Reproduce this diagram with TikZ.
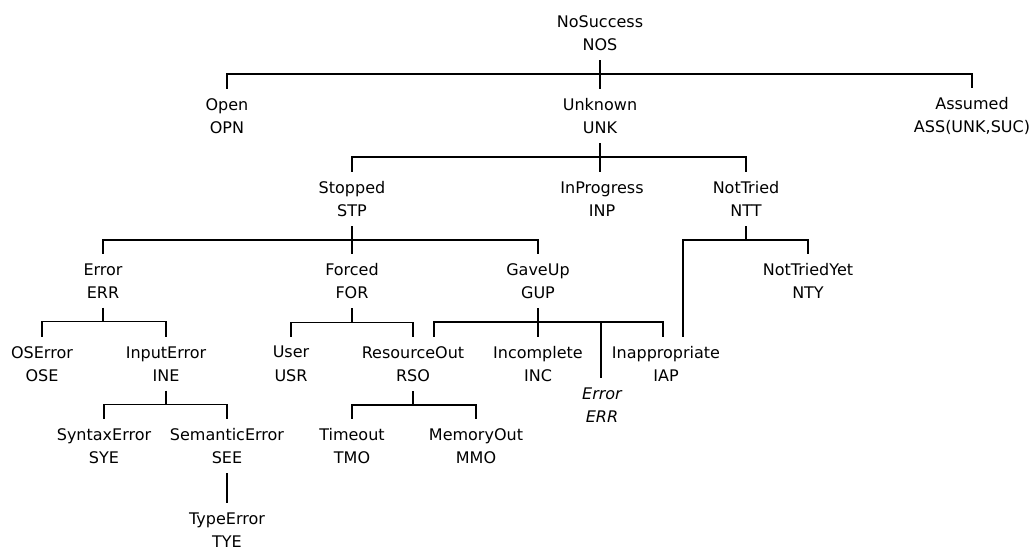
\documentclass[tikz,border=0pt]{standalone}
\usepackage{fontspec}
\setmainfont{DejaVu Sans}

\begin{document}
\begin{tikzpicture}[x=1pt,y=-1pt,
        estado/.style={align=center,inner sep=0pt,inner ysep=9pt,font=\fontsize{16}{23.5}\selectfont},
        rama/.style={line width=1.3pt}]
        \useasboundingbox (0,0) rectangle (1036,550);
        % Nodo raiz
            \node[estado] (nos) at (600,33) {NoSuccess\\NOS};
            % Primer nivel
            \node[estado] (opn) at (227,116) {Open\\OPN};
            \node[estado] (unk) at (600,116) {Unknown\\UNK};
            \node[estado] (ass) at (972,116) {Assumed\\ASS(UNK,SUC)};
            % Segundo nivel
            \node[estado] (stp) at (352,199) {Stopped\\STP};
            \node[estado] (inp) at (602,199) {InProgress\\INP};
            \node[estado] (ntt) at (746,199) {NotTried\\NTT};
            % Tercer nivel
            \node[estado] (err) at (103,281) {Error\\ERR};
            \node[estado] (for) at (352,281) {Forced\\FOR};
            \node[estado] (gup) at (538,281) {GaveUp\\GUP};
            \node[estado] (nty) at (808,281) {NotTriedYet\\NTY};
            % Cuarto nivel
            \node[estado] (ose) at (42,364) {OSError\\OSE};
            \node[estado] (ine) at (166,364) {InputError\\INE};
            \node[estado] (usr) at (291,364) {User\\USR};
            \node[estado] (rso) at (413,364) {ResourceOut\\RSO};
            \node[estado] (inc) at (538,364) {Incomplete\\INC};
            \node[estado] (iap) at (666,364) {Inappropriate\\IAP};
            \node[estado,font=\fontsize{16}{23.5}\selectfont\itshape] (gerr) at (602,405) {Error\\ERR};
            % Quinto nivel
            \node[estado] (sye) at (104,446) {SyntaxError\\SYE};
            \node[estado] (see) at (227,446) {SemanticError\\SEE};
            \node[estado] (tmo) at (352,446) {Timeout\\TMO};
            \node[estado] (mmo) at (476,446) {MemoryOut\\MMO};
            \node[estado] (tye) at (227,530) {TypeError\\TYE};

            % Conectores
            \draw[rama] (nos.south) -- ++(0,14) -| (opn.north);
            \draw[rama] (nos.south) -- (unk.north);
            \draw[rama] (nos.south) -- ++(0,14) -| (ass.north);
            \draw[rama] (unk.south) -- ++(0,14) -| (stp.north);
            \draw[rama] (unk.south) -- ([xshift=-2]inp.north);
            \draw[rama] (unk.south) -- ++(0,14) -| (ntt.north);
            \draw[rama] (stp.south) -- ++(0,14) -| (err.north);
            \draw[rama] (stp.south) -- (for.north);
            \draw[rama] (stp.south) -- ++(0,14) -| (gup.north);
            \draw[rama] (ntt.south) -- ++(0,14) -| ([xshift=17]iap.north);
            \draw[rama] (ntt.south) -- ++(0,14) -| (nty.north);
            \draw[rama] (err.south) -- ++(0,14) -| (ose.north);
            \draw[rama] (err.south) -- ++(0,14) -| (ine.north);
            \draw[rama] (for.south) -- ++(0,14) -| (usr.north);
            \draw[rama] (for.south) -- ++(0,14) -| (rso.north);
            \draw[rama] (gup.south) -- ++(0,14) -| ([xshift=21]rso.north);
            \draw[rama] (gup.south) -- (inc.north);
            \draw[rama] (gup.south) -- ++(0,14) -| ([xshift=-1]gerr.north);
            \draw[rama] (gup.south) -- ++(0,14) -| ([xshift=-3]iap.north);
            \draw[rama] (ine.south) -- ++(0,14) -| (sye.north);
            \draw[rama] (ine.south) -- ++(0,14) -| (see.north);
            \draw[rama] (rso.south) -- ++(0,14) -| (tmo.north);
            \draw[rama] (rso.south) -- ++(0,14) -| (mmo.north);
            \draw[rama] (see.south) -- (tye.north);
        \end{tikzpicture}
\end{document}
